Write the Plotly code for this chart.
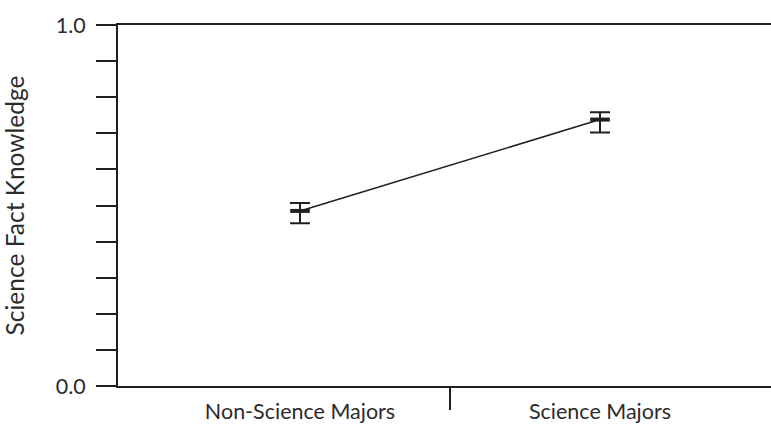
import plotly.graph_objects as go

categories = ["Non-Science Majors", "Science Majors"]
x_pos = [0, 1]
means = [0.485, 0.738]
err_plus = [0.022, 0.020]
err_minus = [0.034, 0.036]
y_tickvals = [0.0, 0.1, 0.2, 0.3, 0.4, 0.5, 0.6, 0.7, 0.8, 0.9, 1.0]
y_ticktext = ["0.0", "", "", "", "", "", "", "", "", "", "1.0"]

dark = "#231f20"
text_color = "#2b2b2b"
font_family = "Lato, 'Open Sans', sans-serif"

fig = go.Figure()
fig.add_trace(go.Scatter(
    x=x_pos, y=means,
    mode="lines+markers",
    line=dict(color=dark, width=1.6),
    marker=dict(symbol="line-ew", size=14, line=dict(color=dark, width=4), color=dark),
    error_y=dict(type="data", symmetric=False, array=err_plus, arrayminus=err_minus,
                 color=dark, thickness=2, width=10),
    showlegend=False,
    hoverinfo="skip",
))

fig.update_layout(
    width=771, height=427,
    margin=dict(l=118, r=0, t=25, b=41),
    paper_bgcolor="white", plot_bgcolor="white",
    font=dict(family=font_family, size=21, color=text_color),
    xaxis=dict(
        range=[-0.6067, 1.57],
        tickmode="array", tickvals=x_pos, ticktext=categories,
        ticks="outside", ticklen=5, tickcolor="rgba(0,0,0,0)",
        showline=True, linecolor=dark, linewidth=2, mirror=True,
        showgrid=False, zeroline=False,
        tickfont=dict(size=21.5, color=text_color),
        minor=dict(tickmode="array", tickvals=[0.5], ticks="outside",
                   ticklen=22, tickwidth=2, tickcolor=dark, showgrid=False),
    ),
    yaxis=dict(
        range=[0, 1],
        tickmode="array", tickvals=y_tickvals, ticktext=y_ticktext,
        ticks="outside", ticklen=20, tickwidth=2, tickcolor=dark,
        ticklabelstandoff=6,
        showline=True, linecolor=dark, linewidth=2, mirror=False,
        showgrid=False, zeroline=False,
        tickfont=dict(size=21.5, color=text_color),
        title=dict(text="Science Fact Knowledge", font=dict(size=24.5, color=text_color), standoff=27),
    ),
)

fig.write_html("out.html", config={"displayModeBar": False},
               post_script="document.body.style.margin='0';document.body.style.padding='0';")
